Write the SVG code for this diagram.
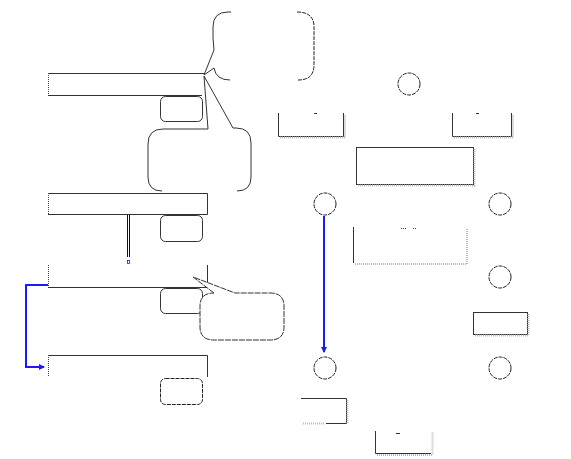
<svg xmlns="http://www.w3.org/2000/svg" width="571" height="459" viewBox="0 0 571 459">
<style>
.s{fill:none;stroke:#333;stroke-width:1}
.d{fill:none;stroke:#444;stroke-width:1;stroke-dasharray:1 1}
.ci{fill:none;stroke:#222;stroke-width:1;stroke-dasharray:4 1}
.sh{fill:none;stroke:#bbb;stroke-width:2;stroke-dasharray:1 1}
.c{fill:#fff;stroke:#333;stroke-width:1;stroke-dasharray:6 1}
.b{fill:none;stroke:#1a1aff;stroke-width:2}
</style>
<defs>
<marker id="ah" markerWidth="6" markerHeight="6" refX="5" refY="3" orient="auto" markerUnits="userSpaceOnUse"><path d="M0,0 L6,3 L0,6 z" fill="#1a1aff"/></marker>
</defs>
<rect width="571" height="459" fill="#fff"/>

<g id="callout1">
<path class="s" d="M231,12 H228 Q213,12 213,27 V38 L214,50 L204,75 L214,68 Q216,80 230,80"/>
<path class="ci" d="M297,12 Q314,12 314,27 V65 Q314,80 298,80"/>
</g>

<g id="bar1">
<path class="s" d="M48,73.5 H205 M48,95.5 H202"/>
<path class="d" d="M48.5,73 V95"/>
</g>
<g id="small1"><rect class="s" x="160.5" y="96.5" width="42" height="25" rx="5"/></g>

<g id="callout2">
<path class="s" d="M204,76 L208,129 H163 Q148,129 148,144 V177 Q148,191 162,191"/>
<path class="s" d="M204,76 L233,128 H236 Q251,128 251,143 V177 Q251,191 237,191"/>
</g>

<g id="bar2">
<path class="s" d="M48,193.5 H207.5 V214.5 H48"/>
<path class="d" d="M48.5,193 V214"/>
</g>
<g id="small2"><rect class="s" x="160.5" y="215.5" width="42" height="26" rx="5"/></g>

<g id="bar3">
<path class="s" d="M48,287.5 H207.5 V265"/>
<path class="d" d="M48.5,265 V287"/>
</g>
<g id="small3"><rect class="s" x="160.5" y="288.5" width="42" height="25" rx="5"/></g>

<g id="callout3">
<path class="c" d="M214,293 L193,277 L235,293 H270 Q284,293 284,306 V327 Q284,340 270,340 H214 Q200,340 200,327 V306 Q200,293 214,293 z"/>
</g>

<g id="bar4">
<path class="s" d="M48,355.5 H207.5 V377"/>
<path class="d" d="M48.5,355 V377"/>
</g>
<g id="small4"><rect class="ci" x="160.5" y="378.5" width="42" height="26" rx="5"/></g>

<g id="circle1"><circle class="ci" cx="409" cy="84" r="11"/></g>
<g id="boxA">
<path class="s" d="M278.5,113 V136.5 H343.5 V113"/>
<path class="sh" d="M280,137.5 H345 V115"/>
<path class="s" d="M314,113.5 H317"/>
</g>
<g id="boxB">
<path class="s" d="M452.5,113 V136.5 H511.5 V113"/>
<path class="sh" d="M454,137.5 H513 V115"/>
<path class="s" d="M476,113.5 H479"/>
</g>
<g id="boxC">
<rect class="s" x="356.5" y="147.5" width="117" height="37"/>
<path class="sh" d="M358,185.5 H474.5 V149"/>
</g>
<g id="circle2"><circle class="ci" cx="325" cy="204" r="11"/></g>
<g id="circle3"><circle class="ci" cx="500" cy="204" r="11"/></g>
<g id="boxD">
<path class="s" d="M353.5,227 V263"/>
<path class="sh" d="M355,264 H467 V228"/>
<path class="d" d="M401,228.5 H406 M413,228.5 H417"/>
</g>
<g id="circle4"><circle class="ci" cx="500" cy="277" r="11"/></g>
<g id="boxE">
<rect class="s" x="473.5" y="312.5" width="54" height="22"/>
<path class="sh" d="M475,335.5 H528.5 V314"/>
</g>
<g id="circle5"><circle class="ci" cx="325" cy="368" r="11"/></g>
<g id="circle6"><circle class="ci" cx="500" cy="368" r="11"/></g>
<g id="boxF">
<path class="s" d="M301,398.5 H346.5 V423.5 H326"/>
<path class="sh" d="M303,423.5 H324 M347.5,400 V424"/>
</g>
<g id="boxG">
<path class="s" d="M375.5,431 V453.5 H431"/>
<path class="sh" d="M377,455 H432.5 V432"/>
<path class="s" d="M396,433.5 H400"/>
</g>

<g id="connectors">
<path d="M127.5,215 V257 M129.5,215 V257" stroke="#111" stroke-width="1" fill="none"/>
<rect x="127.5" y="260.5" width="2" height="3" fill="none" stroke="#1a1aff" stroke-width="0.8"/>
<path class="b" d="M48,285 H26 V367 H44" marker-end="url(#ah)"/>
<path class="b" d="M324,216 V352" marker-end="url(#ah)"/>
</g>
</svg>
